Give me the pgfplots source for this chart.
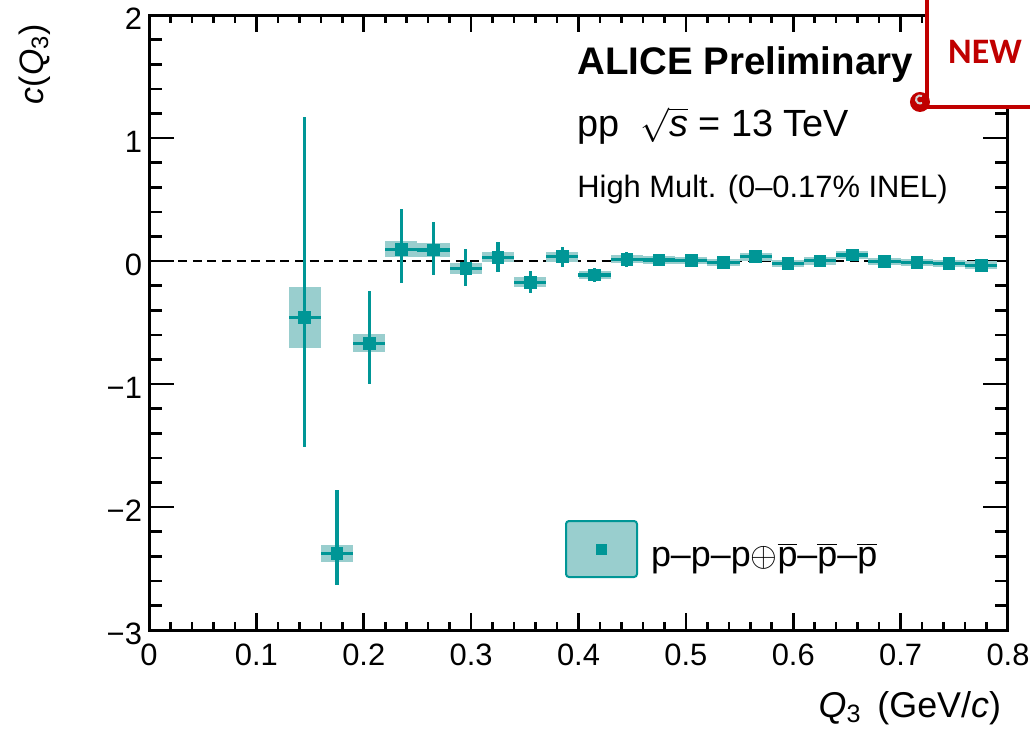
\documentclass[border=0pt]{standalone}
\usepackage{fontspec}
\setmainfont{Liberation Sans}
\newfontfamily\carlito{Carlito}
\usepackage{pgfplots}
\pgfplotsset{compat=1.18}
\usepackage{pgfplotstable}
\definecolor{markcol}{RGB}{0,150,150}
\definecolor{boxcol}{RGB}{153,206,206}
\definecolor{newred}{RGB}{192,0,0}
\newcommand{\pbar}{\ensuremath{\overline{\hbox{p}}}}

\pgfplotstableread{
x      y       ep     em     sys
0.145  -0.460  1.630  1.050  0.245
0.175  -2.377  0.515  0.260  0.070
0.205  -0.670  0.430  0.330  0.073
0.235   0.095  0.330  0.275  0.064
0.265   0.089  0.226  0.200  0.055
0.295  -0.060  0.160  0.143  0.043
0.325   0.030  0.125  0.116  0.040
0.355  -0.172  0.088  0.088  0.040
0.385   0.035  0.080  0.080  0.040
0.415  -0.114  0.060  0.060  0.035
0.445   0.015  0.060  0.060  0.031
0.475   0.008  0.030  0.030  0.031
0.505   0.004  0.025  0.025  0.031
0.535  -0.013  0.025  0.025  0.031
0.565   0.035  0.025  0.025  0.031
0.595  -0.019  0.025  0.025  0.031
0.625   0.002  0.025  0.025  0.031
0.655   0.049  0.025  0.025  0.031
0.685  -0.005  0.025  0.025  0.031
0.715  -0.013  0.025  0.025  0.031
0.745  -0.019  0.025  0.025  0.031
0.775  -0.035  0.025  0.025  0.031
}\datatable

\begin{document}
\begin{tikzpicture}
\useasboundingbox (0,0) rectangle (515bp,365bp);
\pgfplotsset{common/.style={
  at={(74.5bp,50bp)}, anchor=south west, scale only axis,
  width=429.5bp, height=307.5bp,
  xmin=0, xmax=0.8, ymin=-3, ymax=2,
  axis line style={line width=1.5bp, black},
  tick style={line width=1.3bp, black},
  tick align=inside,
  /pgf/number format/assume math mode=true,
  tick label style={font=\fontsize{15.5}{18}\selectfont},
}}
% y ticks, data
\begin{axis}[common,
  xtick=\empty,
  ytick={-3,-2,-1,0,1,2},
  yticklabels={−3,−2,−1,0,1,2},
  minor y tick num=4,
  major tick length=12.5bp, minor tick length=6.5bp,
  yticklabel style={yshift=-2bp},
  ylabel={\textit{c}(\textit{Q}\textsubscript{3})},
  ylabel style={at={(rel axis cs:-0.1234,0.9967)}, anchor=base east, font=\fontsize{17}{20}\selectfont},
  xlabel={\textit{Q}\textsubscript{3}\, (GeV/\textit{c})},
  xlabel style={at={(rel axis cs:1,-0.1415)}, anchor=base east, font=\fontsize{18}{20}\selectfont},
  legend style={at={(rel axis cs:0.4843,0.1317)}, anchor=west, draw=none, fill=none,
    inner sep=0pt, outer sep=0pt, column sep=6.5bp,
    nodes={inner sep=0pt, font=\fontsize{18}{20}\selectfont}},
  legend cell align=left,
]
\addplot[forget plot, black, line width=1.3bp, dash pattern=on 4.5bp off 2.8bp] coordinates {(0,0) (0.8,0)};
\addplot[forget plot, only marks, mark=none,
  error bars/.cd, y dir=both, y explicit, error mark=none,
  error bar style={line width=16.1bp, draw=boxcol, solid}]
  table[x=x, y=y, y error=sys]{\datatable};
\addplot[forget plot, only marks, mark=square*, mark size=2.9bp,
  mark options={draw=markcol, fill=markcol, solid},
  error bars/.cd, x dir=both, x fixed=0.015, y dir=both, y explicit, error mark=none,
  error bar style={line width=1.6bp, draw=markcol, solid}]
  table[x=x, y=y, y error plus=ep, y error minus=em]{\datatable};
\addlegendimage{legend image code/.code={
  \draw[draw=markcol, fill=boxcol, line width=1bp, rounded corners=1.5bp] (0bp,-10.5bp) rectangle (35.5bp,17.5bp);
  \fill[markcol] (15.25bp,1bp) rectangle (20.25bp,6bp);}}
\addlegendentry{p–p–p$\oplus$\pbar–\pbar–\pbar}
\end{axis}
% x ticks
\begin{axis}[common,
  ytick=\empty,
  xtick={0,0.1,0.2,0.3,0.4,0.5,0.6,0.7,0.8},
  xticklabels={0,0.1,0.2,0.3,0.4,0.5,0.6,0.7,0.8},
  minor x tick num=4,
  major tick length=8.5bp, minor tick length=4bp,
  xticklabel style={yshift=-3.5bp},
]
\end{axis}
\begin{scope}[x=0.5bp, y=-0.5bp, yshift=365bp]
  \node[anchor=base west, inner sep=0pt, font=\bfseries\fontsize{19.3}{22}\selectfont] at (577,75) {ALICE Preliminary};
  \node[anchor=base west, inner sep=0pt, font=\fontsize{19}{22}\selectfont] at (577,137) {pp\ \ $\sqrt{\textit{s}}$ = 13 TeV};
  \node[anchor=base west, inner sep=0pt, font=\fontsize{15.5}{18}\selectfont] at (577,198) {High Mult. (0–0.17\% INEL)};
  % NEW tag
  \fill[white] (927,-10) rectangle (1040,107);
  \draw[newred, line width=1.6bp] (927,-10) -- (927,107) -- (1040,107);
  \fill[newred] (920,102) circle[radius=5bp];
  \draw[gray!35, line width=1bp] (922,96) arc[start angle=60, end angle=300, radius=2bp];
  \node[text=newred, font=\carlito\bfseries\fontsize{18}{20}\selectfont] at (985,52) {NEW};
\end{scope}
\end{tikzpicture}
\end{document}
